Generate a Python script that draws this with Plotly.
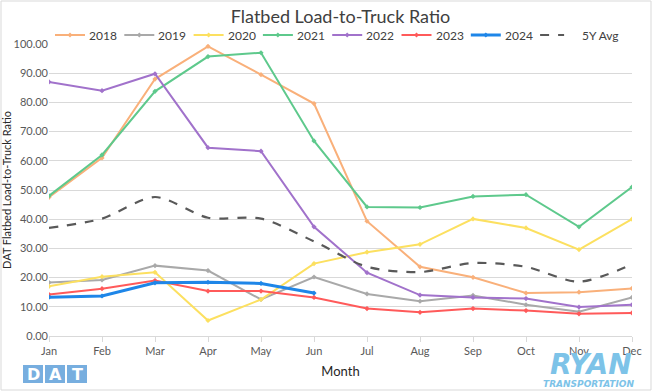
import plotly.graph_objects as go

months = ["Jan", "Feb", "Mar", "Apr", "May", "Jun", "Jul", "Aug", "Sep", "Oct", "Nov", "Dec"]
y2018 = [47.5, 61.0, 88.0, 99.2, 89.5, 79.6, 39.3, 23.7, 20.1, 14.7, 15.0, 16.3]
y2019 = [18.3, 19.2, 24.1, 22.4, 12.5, 20.2, 14.4, 11.9, 13.9, 10.7, 8.3, 13.2]
y2020 = [17.0, 20.3, 21.8, 5.3, 12.5, 24.8, 28.7, 31.4, 40.1, 37.0, 29.6, 40.0]
y2021 = [48.0, 62.0, 83.8, 95.7, 97.0, 66.8, 44.2, 44.0, 47.8, 48.4, 37.4, 51.0]
y2022 = [87.0, 84.0, 89.8, 64.5, 63.3, 37.4, 21.7, 14.0, 13.2, 12.8, 9.9, 10.7]
y2023 = [14.2, 16.2, 19.0, 15.4, 15.4, 13.2, 9.4, 8.1, 9.4, 8.7, 7.6, 7.9]
y2024 = [13.3, 13.7, 18.2, 18.4, 18.0, 14.7]
y5avg = [37.0, 40.2, 47.6, 40.5, 40.2, 32.4, 23.7, 21.9, 25.0, 23.7, 18.6, 24.5]
y_ticks = [0, 10, 20, 30, 40, 50, 60, 70, 80, 90, 100]

FONT = "Lato"
series = [
    ("2018", y2018, "#F9B07A", 2),
    ("2019", y2019, "#A9A9A9", 2),
    ("2020", y2020, "#FCE060", 2),
    ("2021", y2021, "#5EC98C", 2),
    ("2022", y2022, "#A172CB", 2),
    ("2023", y2023, "#FF5A5A", 2),
    ("2024", y2024, "#1E86E8", 3),
]
avg_name, avg_color = "5Y Avg", "#595959"

fig = go.Figure()
for name, ys, col, w in series:
    fig.add_trace(go.Scatter(
        x=months[:len(ys)], y=ys, name=name, mode="lines+markers",
        line=dict(color=col, width=w),
        marker=dict(symbol="diamond", size=4, color=col),
    ))
fig.add_trace(go.Scatter(
    x=months, y=y5avg, name=avg_name, mode="lines",
    line=dict(color=avg_color, width=2.2, dash="dash", shape="spline", smoothing=0.8),
))

W, H = 653, 392
L, R, T, B = 49, 21, 44, 56
pw, ph = W - L - R, H - T - B

def px_x(x):
    return (x - L) / pw

def px_y(y):
    return (H - B - y) / ph

fig.update_layout(
    width=W, height=H,
    margin=dict(l=L, r=R, t=T, b=B, autoexpand=False),
    paper_bgcolor="white", plot_bgcolor="white",
    font=dict(family=FONT, color="#595959", size=11),
    title=dict(text="Flatbed Load-to-Truck Ratio", x=0.5, xanchor="center",
               xref="paper", y=1 - 17 / H, yanchor="middle",
               font=dict(family=FONT, size=18, color="#404040")),
    showlegend=False,
)
fig.update_xaxes(
    type="category", categoryorder="array", categoryarray=months, automargin=False,
    range=[0, 11], showgrid=False, showline=True, linecolor="#D9D9D9", linewidth=1,
    ticks="outside", ticklen=5, tickcolor="#D9D9D9",
    tickfont=dict(family=FONT, size=11, color="#595959"),
    title=dict(text="Month", font=dict(family=FONT, size=13, color="#262626"), standoff=10),
)
fig.update_yaxes(
    range=[0, 100], tickvals=y_ticks, tickformat=".2f", automargin=False,
    showgrid=True, gridcolor="#D9D9D9", gridwidth=1, zeroline=False,
    tickfont=dict(family=FONT, size=11, color="#595959"),
    title=dict(text="DAT Flatbed Load-to-Truck Ratio",
               font=dict(family=FONT, size=11, color="#262626"), standoff=6),
)

# custom legend (horizontal row above the plot)
LEG_Y = 35
legend_items = [(n, c, w) for n, _, c, w in series] + [(avg_name, avg_color, 2.2)]
for i, (name, col, w) in enumerate(legend_items):
    x0 = 55 + 69.3 * i
    if name == avg_name:
        fig.add_shape(type="line", xref="paper", yref="paper",
                      x0=px_x(x0), x1=px_x(x0 + 24), y0=px_y(LEG_Y), y1=px_y(LEG_Y),
                      line=dict(color=col, width=w, dash="dash"))
        fig.add_annotation(xref="paper", yref="paper", x=px_x(x0 + 40), y=px_y(LEG_Y),
                           text=name, showarrow=False, xanchor="left", yanchor="middle",
                           font=dict(family=FONT, size=12, color="#404040"))
        continue
    fig.add_shape(type="line", xref="paper", yref="paper",
                  x0=px_x(x0), x1=px_x(x0 + 30), y0=px_y(LEG_Y), y1=px_y(LEG_Y),
                  line=dict(color=col, width=w))
    cx = x0 + 15
    fig.add_shape(type="path", xref="paper", yref="paper",
                  path=(f"M {px_x(cx - 2.5)} {px_y(LEG_Y)} L {px_x(cx)} {px_y(LEG_Y - 2.5)} "
                        f"L {px_x(cx + 2.5)} {px_y(LEG_Y)} L {px_x(cx)} {px_y(LEG_Y + 2.5)} Z"),
                  line=dict(width=0), fillcolor=col)
    fig.add_annotation(xref="paper", yref="paper", x=px_x(x0 + 32), y=px_y(LEG_Y),
                       text=name, showarrow=False, xanchor="left", yanchor="middle",
                       font=dict(family=FONT, size=12, color="#404040"))

# outer frame
fig.add_shape(type="rect", xref="paper", yref="paper",
              x0=px_x(1), x1=px_x(W - 2), y0=px_y(H - 2), y1=px_y(1),
              line=dict(color="#D9D9D9", width=1), fillcolor="rgba(0,0,0,0)", layer="below")

# DAT logo
for i, letter in enumerate(["D", "A", "T"]):
    x0 = 23 + i * 22
    fig.add_shape(type="rect", xref="paper", yref="paper",
                  x0=px_x(x0), x1=px_x(x0 + 20), y0=px_y(383), y1=px_y(365),
                  line=dict(width=0), fillcolor="#77AEDF")
    fig.add_annotation(xref="paper", yref="paper", x=px_x(x0 + 10), y=px_y(374),
                       text=f"<b>{letter}</b>", showarrow=False,
                       font=dict(family="DejaVu Sans", size=16, color="white"),
                       xanchor="center", yanchor="middle")

# RYAN logo
fig.add_annotation(xref="paper", yref="paper", x=px_x(591), y=px_y(364),
                   text="<b><i>RYAN</i></b>", showarrow=False,
                   font=dict(family="DejaVu Sans", size=28, color="#7DC3E8"),
                   xanchor="center", yanchor="middle")
fig.add_annotation(xref="paper", yref="paper", x=px_x(589), y=px_y(384),
                   text="<b><i>TRANSPORTATION</i></b>", showarrow=False,
                   font=dict(family="DejaVu Sans", size=9, color="#7DC3E8"),
                   xanchor="center", yanchor="middle")

fig.write_html("out.html", config={"displayModeBar": False},
               post_script="document.body.style.margin='0';document.body.style.overflow='hidden';")
